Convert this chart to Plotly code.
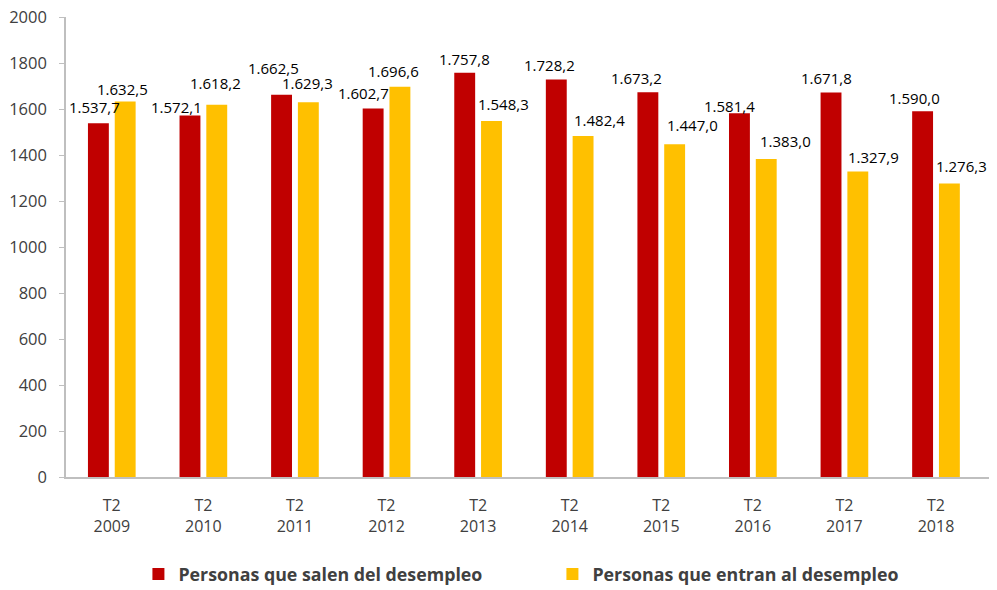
import plotly.graph_objects as go

categories = ["T2<br>2009", "T2<br>2010", "T2<br>2011", "T2<br>2012", "T2<br>2013",
              "T2<br>2014", "T2<br>2015", "T2<br>2016", "T2<br>2017", "T2<br>2018"]
salen = [1537.7, 1572.1, 1662.5, 1602.7, 1757.8, 1728.2, 1673.2, 1581.4, 1671.8, 1590.0]
entran = [1632.5, 1618.2, 1629.3, 1696.6, 1548.3, 1482.4, 1447.0, 1383.0, 1327.9, 1276.3]
salen_labels = ["1.537,7", "1.572,1", "1.662,5", "1.602,7", "1.757,8",
                "1.728,2", "1.673,2", "1.581,4", "1.671,8", "1.590,0"]
entran_labels = ["1.632,5", "1.618,2", "1.629,3", "1.696,6", "1.548,3",
                 "1.482,4", "1.447,0", "1.383,0", "1.327,9", "1.276,3"]
series_names = ["Personas que salen del desempleo", "Personas que entran al desempleo"]
y_ticks = [0, 200, 400, 600, 800, 1000, 1200, 1400, 1600, 1800, 2000]

# label offsets (pixels) relative to top-centre of each bar
salen_dx = [-4, -13, -8, -10, 0, -7, -11, -10, -4, -8]
salen_dy = [16, 8, 27, 15, 14, 15, 14, 7, 14, 13]
entran_dx = [-3, -1, -1, -7, 12, 16, 18, 19, 16, 12]
entran_dy = [13, 22, 19, 16, 17, 16, 19, 18, 15, 17]

RED = "#C00000"
GOLD = "#FFC000"
TXT = "#404040"
FONT = "Open Sans"

fig = go.Figure()
fig.add_trace(go.Bar(x=categories, y=salen, name=series_names[0], marker_color=RED,
                     marker_line_width=0))
fig.add_trace(go.Bar(x=categories, y=entran, name=series_names[1], marker_color=GOLD,
                     marker_line_width=0))

half = 13.5
annotations = []
for i, c in enumerate(categories):
    annotations.append(dict(x=c, y=salen[i], text=salen_labels[i], showarrow=False,
                            xshift=-half + salen_dx[i], yshift=salen_dy[i],
                            xanchor="center", yanchor="middle",
                            font=dict(family=FONT, size=15, color="#000000")))
    annotations.append(dict(x=c, y=entran[i], text=entran_labels[i], showarrow=False,
                            xshift=half + entran_dx[i], yshift=entran_dy[i],
                            xanchor="center", yanchor="middle",
                            font=dict(family=FONT, size=15, color="#000000")))

fig.update_layout(
    width=997, height=590,
    margin=dict(l=66, r=8, t=17, b=113, autoexpand=False),
    paper_bgcolor="white", plot_bgcolor="white",
    barmode="group", bargap=0.415, bargroupgap=0.22,
    font=dict(family=FONT, size=16, color=TXT),
    showlegend=True,
    legend=dict(orientation="h", x=0.527, xanchor="center", y=-0.212, yanchor="middle",
                font=dict(family=FONT, size=17.8, color=TXT, weight="bold"),
                itemwidth=30, entrywidth=369, traceorder="normal"),
    annotations=annotations,
)
fig.update_xaxes(showline=True, linecolor="#BFBFBF", linewidth=1.5, ticks="",
                 showgrid=False, tickfont=dict(family=FONT, size=16, color=TXT),
                 ticklabelstandoff=13, automargin=False)
fig.update_yaxes(range=[0, 2000], tickvals=y_ticks, showline=True, linecolor="#BFBFBF",
                 linewidth=1.5, ticks="outside", ticklen=5, tickcolor="#BFBFBF",
                 showgrid=False, zeroline=False, ticklabelstandoff=9, automargin=False,
                 tickfont=dict(family=FONT, size=16.5, color=TXT))

fig.write_html("out.html", config={"displayModeBar": False},
               post_script="document.body.style.margin='0';")
